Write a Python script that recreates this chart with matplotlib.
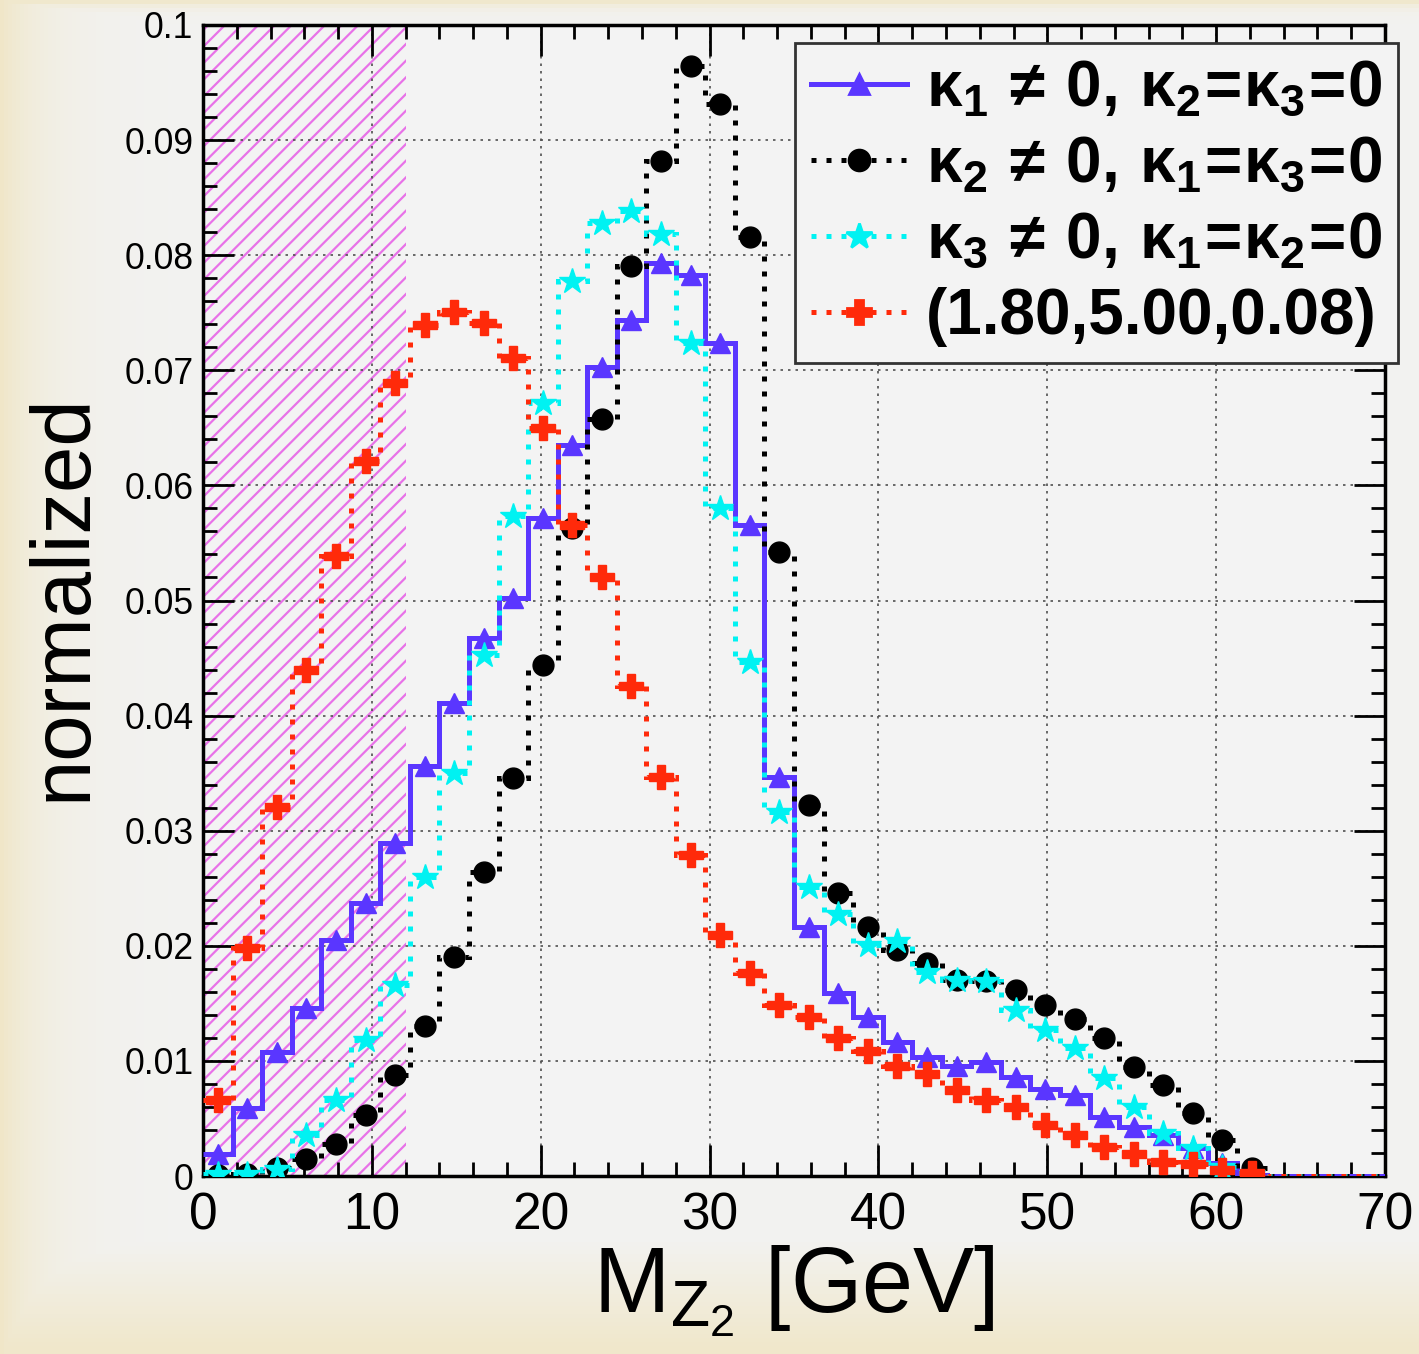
import numpy as np
import matplotlib
matplotlib.use("Agg")
import matplotlib.pyplot as plt
from matplotlib.lines import Line2D
from matplotlib.ticker import MultipleLocator, FuncFormatter

plt.rcParams['font.family'] = ['Liberation Sans', 'DejaVu Sans']
plt.rcParams['mathtext.fontset'] = 'custom'
plt.rcParams['mathtext.rm'] = 'Liberation Sans:bold'
plt.rcParams['mathtext.it'] = 'Liberation Sans:bold'
plt.rcParams['mathtext.bf'] = 'Liberation Sans:bold'
plt.rcParams['mathtext.sf'] = 'Liberation Sans'
plt.rcParams['mathtext.default'] = 'regular'
plt.rcParams['hatch.linewidth'] = 0.8

# 40 bins of 1.75 GeV between 0 and 70
edges = np.linspace(0, 70, 41)
centers = 0.5 * (edges[:-1] + edges[1:])

k1_only = [0.0019, 0.0059, 0.0108, 0.0146, 0.0205, 0.0237, 0.0289, 0.0356, 0.0411, 0.0467,
           0.0502, 0.0572, 0.0635, 0.0703, 0.0744, 0.0793, 0.0783, 0.0724, 0.0566, 0.0347,
           0.0216, 0.0159, 0.0138, 0.0116, 0.0103, 0.0096, 0.0099, 0.0086, 0.0076, 0.0070,
           0.0051, 0.0043, 0.0036, 0.0024, 0.0011, 0.0001, 0, 0, 0, 0]
k2_only = [0.0001, 0.0002, 0.0007, 0.0015, 0.0028, 0.0053, 0.0088, 0.0130, 0.0190, 0.0264,
           0.0346, 0.0444, 0.0563, 0.0658, 0.0791, 0.0882, 0.0964, 0.0931, 0.0816, 0.0542,
           0.0322, 0.0246, 0.0216, 0.0196, 0.0185, 0.0170, 0.0169, 0.0162, 0.0149, 0.0136,
           0.0120, 0.0095, 0.0079, 0.0055, 0.0031, 0.0007, 0, 0, 0, 0]
k3_only = [0.0002, 0.0002, 0.0006, 0.0036, 0.0066, 0.0118, 0.0166, 0.0260, 0.0350, 0.0453,
           0.0573, 0.0672, 0.0778, 0.0828, 0.0838, 0.0818, 0.0724, 0.0580, 0.0447, 0.0316,
           0.0251, 0.0228, 0.0201, 0.0204, 0.0177, 0.0170, 0.0169, 0.0144, 0.0127, 0.0111,
           0.0085, 0.0060, 0.0037, 0.0024, 0.0008, 0.0002, 0, 0, 0, 0]
mixed = [0.0066, 0.0198, 0.0321, 0.0440, 0.0539, 0.0621, 0.0689, 0.0739, 0.0751, 0.0741,
         0.0711, 0.0650, 0.0566, 0.0520, 0.0426, 0.0347, 0.0279, 0.0209, 0.0176, 0.0149,
         0.0138, 0.0120, 0.0109, 0.0096, 0.0089, 0.0075, 0.0066, 0.0060, 0.0044, 0.0036,
         0.0025, 0.0019, 0.0012, 0.0010, 0.0005, 0.0003, 0, 0, 0, 0]

labels = [r'$\kappa_1\,\neq\,0,\,\kappa_2\!=\!\kappa_3\!=\!0$',
          r'$\kappa_2\,\neq\,0,\,\kappa_1\!=\!\kappa_3\!=\!0$',
          r'$\kappa_3\,\neq\,0,\,\kappa_1\!=\!\kappa_2\!=\!0$',
          '(1.80,5.00,0.08)']
colors = ['#5a36ff', 'black', '#00f2f2', '#ff2a0a']
markers = ['^', 'o', '*', 'P']
msizes = [7.5, 7.5, 9.5, 8.5]
styles = ['-', (0, (1, 2)), (0, (1, 2)), (0, (1, 2))]
series = [k1_only, k2_only, k3_only, mixed]
cut = 12  # hatched region

fig = plt.figure(figsize=(7.095, 6.77), dpi=200)

# slide background: beige at edges, light gray inside
H, W = 340, 355
yy, xx = np.mgrid[0:1:H * 1j, 0:1:W * 1j]
w = np.maximum.reduce([0.9 * np.exp(-xx * 1419 / 45),
                       np.clip((yy * 1354 - 1240) / 110, 0, 1) * 0.85,
                       0.8 * np.exp(-yy * 1354 / 6)])
beige = np.array([0.94, 0.90, 0.77])
gray = np.array([0.952, 0.951, 0.945])
img = gray * (1 - w[..., None]) + beige * w[..., None]
bg = fig.add_axes([0, 0, 1, 1], zorder=-10)
bg.imshow(img, aspect='auto', extent=[0, 1, 0, 1])
bg.axis('off')

ax = fig.add_axes([203 / 1419, 1 - 1176 / 1354, 1182 / 1419, 1151 / 1354])
ax.set_facecolor('#f3f3f3')

ax.axvspan(0, cut, facecolor='none', edgecolor='#e872e8', hatch='////', linewidth=0, zorder=1)

for i, (vals, c, mk, ms, ls) in enumerate(zip(series, colors, markers, msizes, styles)):
    vals = np.array(vals)
    ax.stairs(vals, edges, baseline=None, color=c, linewidth=1.8, linestyle=ls, zorder=3 + i)
    m = vals > 0
    ax.plot(centers[m], vals[m], linestyle='none', marker=mk, markersize=ms, color=c,
            markeredgewidth=0.5, zorder=3 + i)

ax.set_xlim(0, 70)
ax.set_ylim(0, 0.1)
ax.xaxis.set_major_locator(MultipleLocator(10))
ax.xaxis.set_minor_locator(MultipleLocator(2))
ax.yaxis.set_major_locator(MultipleLocator(0.01))
ax.yaxis.set_minor_locator(MultipleLocator(0.002))
ax.yaxis.set_major_formatter(FuncFormatter(lambda v, p: f'{v:g}'))
ax.tick_params(which='both', direction='in', top=True, right=True, width=1.0)
ax.tick_params(which='major', length=11)
ax.tick_params(which='minor', length=5)
ax.tick_params(axis='x', labelsize=18.5, pad=5.5)
ax.tick_params(axis='y', labelsize=12.8, pad=3.5)
for s in ax.spines.values():
    s.set_linewidth(1.25)
ax.grid(True, which='major', color='#505050', linestyle=(0, (1.5, 3)), linewidth=0.6)

fig.text(63 / 1419, 1 - 597 / 1354, 'normalized', rotation=90, ha='center', va='center', fontsize=30)
fig.text(794 / 1419, 1 - 1312 / 1354, r'$\mathsf{M_{Z_2}}$ [GeV]', ha='center', va='baseline', fontsize=33)

handles = [Line2D([], [], color=c, linestyle=ls, linewidth=1.8, marker=mk, markersize=ms)
           for c, ls, mk, ms in zip(colors, styles, markers, msizes)]
leg = fig.legend(handles, labels, loc='upper right', bbox_to_anchor=(1398 / 1419, 1 - 43 / 1354),
                 bbox_transform=fig.transFigure, borderaxespad=0, numpoints=1,
                 prop={'family': 'Liberation Sans', 'weight': 'bold', 'size': 23},
                 handlelength=1.5, handletextpad=0.3, borderpad=0.25, labelspacing=0.25,
                 fancybox=False, framealpha=1, facecolor='#f3f3f3', edgecolor='#333333')
leg.get_frame().set_linewidth(1.0)

fig.savefig('out.png', dpi=200)
